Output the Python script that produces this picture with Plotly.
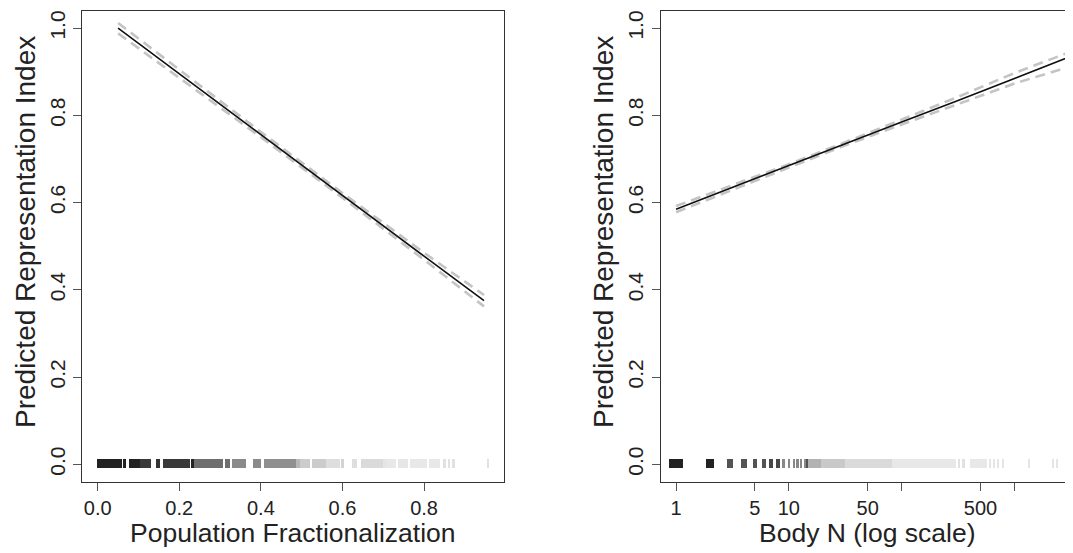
import plotly.graph_objects as go

# ---------------- data ----------------
# Left panel: predicted index vs population fractionalization
frac_x = [0.05, 0.2, 0.4, 0.6, 0.8, 0.947]
frac_pred = [1.000, 0.895, 0.756, 0.617, 0.477, 0.375]
frac_upper = [1.012, 0.904, 0.762, 0.622, 0.485, 0.388]
frac_lower = [0.988, 0.886, 0.750, 0.611, 0.469, 0.362]

# Right panel: predicted index vs body N (log scale)
body_n = [1, 3, 10, 30, 100, 300, 1000, 3300]
body_pred = [0.585, 0.633, 0.685, 0.733, 0.785, 0.832, 0.885, 0.937]
body_upper = [0.592, 0.638, 0.688, 0.736, 0.790, 0.840, 0.897, 0.948]
body_lower = [0.578, 0.627, 0.681, 0.729, 0.779, 0.824, 0.873, 0.914]

# Rug (data density) segments: start, end, relative density
frac_rug_start = [0.000, 0.064, 0.077, 0.104, 0.143, 0.162, 0.229, 0.236, 0.313, 0.329,
                  0.381, 0.408, 0.486, 0.496, 0.525, 0.560, 0.597, 0.625, 0.645, 0.658,
                  0.699, 0.710, 0.736, 0.767, 0.812, 0.847, 0.859, 0.870, 0.955]
frac_rug_end = [0.061, 0.071, 0.104, 0.132, 0.154, 0.226, 0.236, 0.308, 0.326, 0.365,
                0.402, 0.486, 0.496, 0.520, 0.560, 0.594, 0.604, 0.636, 0.658, 0.699,
                0.710, 0.731, 0.761, 0.808, 0.839, 0.854, 0.865, 0.876, 0.960]
frac_rug_density = [1.00, 1.00, 1.00, 0.88, 0.91, 0.88, 1.00, 0.60, 0.60, 0.48,
                    0.48, 0.46, 0.28, 0.16, 0.16, 0.06, 0.12, 0.06, 0.08, 0.08,
                    0.02, 0.00, 0.01, 0.00, 0.00, 0.04, 0.04, 0.04, 0.04]

body_rug_start = [0.867, 1.85, 2.83, 3.77, 4.82, 5.78, 6.67, 7.71, 8.71, 9.75,
                  10.8, 11.6, 12.6, 13.6, 14.0, 14.6, 19.3, 31.5, 81.7, 312,
                  340, 404, 587, 643, 701, 776, 1321, 2143, 2323, 2864]
body_rug_end = [1.154, 2.17, 3.20, 4.20, 5.22, 6.19, 7.14, 8.36, 9.12, 10.25,
                11.3, 12.2, 13.1, 14.0, 14.6, 19.3, 31.5, 81.7, 303, 330,
                362, 568, 617, 668, 724, 804, 1374, 2228, 2421, 2965]
body_rug_density = [1.00, 1.00, 0.74, 0.74, 0.74, 0.74, 0.80, 0.80, 0.49, 0.49,
                    0.49, 0.49, 0.49, 0.49, 0.74, 0.31, 0.18, 0.08, 0.00, 0.04,
                    0.04, 0.00, 0.02, 0.02, 0.02, 0.02, 0.02, 0.02, 0.02, 0.02]

y_ticks = [0.0, 0.2, 0.4, 0.6, 0.8, 1.0]
frac_ticks = [0.0, 0.2, 0.4, 0.6, 0.8]
body_ticks = [1, 5, 10, 50, 100, 500, 1000]
body_tick_text = ["1", "5", "10", "50", "", "500", ""]

# ---------------- figure ----------------
# The page body has an 8px default margin, so the figure is sized to fill the
# rest of the 1073x553 window and page-pixel positions are shifted by it.
OFF = 8
W, H = 1073 - OFF, 553 - OFF
FONT = "Liberation Sans, Arial, Helvetica, sans-serif"
gray_scale = [[0, "#e8e8e8"], [0.3, "#b4b4b4"], [0.6, "#6e6e6e"], [1, "#222222"]]

fig = go.Figure()

def add_panel(xs, pred, up, lo, rs, re, rd, xa, ya):
    widths = [e - s for s, e in zip(rs, re)]
    fig.add_trace(go.Bar(
        orientation="h", y=[0.0025] * len(rs), x=widths, base=rs, width=0.022,
        marker=dict(color=rd, colorscale=gray_scale, cmin=0, cmax=1, line=dict(width=0)),
        xaxis=xa, yaxis=ya, showlegend=False, hoverinfo="skip"))
    for band in (up, lo):
        fig.add_trace(go.Scatter(
            x=xs, y=band, mode="lines",
            line=dict(color="#c4c4c4", width=2.6, dash="10px,6px"),
            xaxis=xa, yaxis=ya, showlegend=False))
    fig.add_trace(go.Scatter(
        x=xs, y=pred, mode="lines", line=dict(color="#111111", width=1.6),
        xaxis=xa, yaxis=ya, showlegend=False))

add_panel(frac_x, frac_pred, frac_upper, frac_lower,
          frac_rug_start, frac_rug_end, frac_rug_density, "x", "y")
add_panel(body_n, body_pred, body_upper, body_lower,
          body_rug_start, body_rug_end, body_rug_density, "x2", "y2")

def px_x(p):
    return (p - OFF) / W

def px_y(p):
    return 1 - (p - OFF) / H

ydom = [px_y(481.7), px_y(10.7)]
axis_common = dict(showgrid=False, zeroline=False, showline=True, linecolor="#333333",
                   linewidth=1.4, ticks="outside", ticklen=8, tickwidth=1,
                   tickcolor="#555555", tickfont=dict(family=FONT, size=20, color="#222222"))
ytickfont = dict(family=FONT, size=21, color="#222222")

fig.update_layout(
    width=W, height=H, template="none",
    margin=dict(l=0, r=0, t=0, b=0),
    paper_bgcolor="white", plot_bgcolor="white",
    barmode="overlay", bargap=0,
    font=dict(family=FONT, color="#222222"),
    xaxis=dict(domain=[px_x(82.3), px_x(504)], range=[-0.0377, 0.996],
               tickvals=frac_ticks, tickformat=".1f", mirror=True, anchor="y",
               **axis_common),
    yaxis=dict(domain=ydom, range=[-0.04, 1.04], tickvals=y_ticks, tickformat=".1f",
               tickangle=-90, mirror=True, anchor="x", **axis_common),
    xaxis2=dict(domain=[px_x(660.7), 1.0], type="log", range=[-0.136, 3.519],
                tickvals=body_ticks, ticktext=body_tick_text, mirror=True, anchor="y2",
                **axis_common),
    yaxis2=dict(domain=ydom, range=[-0.04, 1.04], tickvals=y_ticks, tickformat=".1f",
                tickangle=-90, mirror=False, anchor="x2", **axis_common),
)
fig.update_yaxes(tickfont=ytickfont)

xt_font = dict(family=FONT, size=26.5, color="#222222")
yt_font = dict(family=FONT, size=28, color="#222222")
annots = [
    dict(text="Population Fractionalization", x=px_x(293), y=px_y(533), font=xt_font),
    dict(text="Body N (log scale)", x=px_x(867), y=px_y(533), font=xt_font),
    dict(text="Predicted Representation Index", x=px_x(25), y=px_y(232),
         textangle=-90, font=yt_font),
    dict(text="Predicted Representation Index", x=px_x(603), y=px_y(232),
         textangle=-90, font=yt_font),
]
for a in annots:
    fig.add_annotation(xref="paper", yref="paper", showarrow=False,
                       xanchor="center", yanchor="middle", **a)

fig.write_html("out.html")
